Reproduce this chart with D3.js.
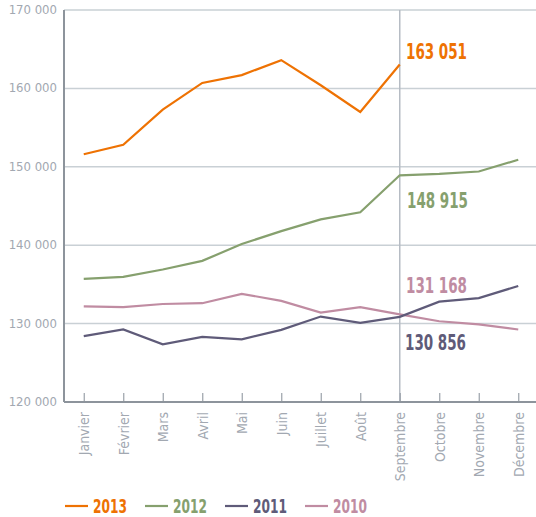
<!DOCTYPE html>
<html>
<head>
<meta charset="utf-8">
<script src="https://cdn.jsdelivr.net/npm/d3@7"></script>
<style>
  body { margin: 0; background: #fff; }
  svg { display: block; }
  .tick-label { font-family: "DejaVu Sans", sans-serif; font-stretch: condensed; fill: #a2a8b1; font-size: 13px; }
  .big { font-family: "DejaVu Sans", sans-serif; font-stretch: condensed; font-weight: bold; }
</style>
</head>
<body>
<svg width="536" height="517"></svg>
<script>
const months = ["Janvier", "Février", "Mars", "Avril", "Mai", "Juin", "Juillet", "Août", "Septembre", "Octobre", "Novembre", "Décembre"]
const yTicks = [120000, 130000, 140000, 150000, 160000, 170000]

const v2013 = [151600, 152800, 157300, 160700, 161700, 163600, 160400, 157000, 163051]
const v2012 = [135700, 135950, 136900, 138000, 140150, 141800, 143300, 144200, 148915, 149100, 149400, 150900]
const v2011 = [128400, 129250, 127350, 128300, 128000, 129200, 130900, 130100, 130856, 132800, 133250, 134800]
const v2010 = [132200, 132100, 132500, 132600, 133800, 132900, 131400, 132100, 131168, 130300, 129900, 129250]

const years = ["2013", "2012", "2011", "2010"]
const colors = ["#ee7203", "#86a06e", "#5f5b79", "#c08ca2"]
const seriesValues = [v2013, v2012, v2011, v2010]

const svg = d3.select('svg')

const xScale = d3.scalePoint()
  .domain(months)
  .range([64, 538])
  .padding(0.5)

const yScale = d3.scaleLinear()
  .domain([120000, 170000])
  .range([402, 10])

const fmt = v => d3.format(",")(v).replace(/,/g, " ")

// horizontal grid
svg.append('g')
  .selectAll('line')
  .data(yTicks.slice(1))
  .enter()
  .append('line')
  .attr('x1', 64).attr('x2', 536)
  .attr('y1', d => yScale(d)).attr('y2', d => yScale(d))
  .attr('stroke', '#c9d0d5')
  .attr('stroke-width', 1.5)

// y labels
svg.append('g')
  .selectAll('text')
  .data(yTicks)
  .enter()
  .append('text')
  .attr('class', 'tick-label')
  .attr('x', 57)
  .attr('y', d => yScale(d) + 4)
  .attr('text-anchor', 'end')
  .text(fmt)

// september marker
svg.append('line')
  .attr('x1', xScale("Septembre")).attr('x2', xScale("Septembre"))
  .attr('y1', yScale(170000)).attr('y2', yScale(120000))
  .attr('stroke', '#b6bcc4')
  .attr('stroke-width', 1.5)

// x axis
const xAxis = svg.append('g')
  .attr('transform', `translate(0, ${yScale(120000)})`)
  .call(d3.axisBottom(xScale).tickSizeInner(-9).tickSizeOuter(0).tickPadding(10))
xAxis.select('.domain').remove()
xAxis.selectAll('.tick line').attr('stroke', '#9aa1a9').attr('stroke-width', 1.2)
xAxis.selectAll('.tick text')
  .attr('class', 'tick-label')
  .attr('font-family', null).attr('font-size', null).attr('fill', null)
  .style('font-size', '14px')
  .attr('transform', 'rotate(-90)')
  .attr('text-anchor', 'end')
  .attr('x', -10)
  .attr('y', 0)
  .attr('dy', '0.35em')

// axis lines
svg.append('line')
  .attr('x1', 64).attr('x2', 536)
  .attr('y1', yScale(120000)).attr('y2', yScale(120000))
  .attr('stroke', '#8d949c').attr('stroke-width', 2)
svg.append('line')
  .attr('x1', 64).attr('x2', 64)
  .attr('y1', yScale(170000)).attr('y2', yScale(120000))
  .attr('stroke', '#8d949c').attr('stroke-width', 2)

const line = d3.line()
  .x((d, i) => xScale(months[i]))
  .y(d => yScale(d))

// draw 2010 first so 2013 sits on top
for (let k = seriesValues.length - 1; k >= 0; k--) {
  svg.append('path')
    .datum(seriesValues[k])
    .attr('d', line)
    .attr('fill', 'none')
    .attr('stroke', colors[k])
    .attr('stroke-width', 2.2)
}

// september value labels
const labels = [
  { k: 0, x: 406, y: 59 },
  { k: 1, x: 407, y: 208 },
  { k: 3, x: 406, y: 293 },
  { k: 2, x: 405, y: 350 }
]
svg.append('g')
  .selectAll('text')
  .data(labels)
  .enter()
  .append('text')
  .attr('class', 'big')
  .attr('x', d => d.x)
  .attr('y', d => d.y)
  .attr('font-size', 21)
  .attr('textLength', 61)
  .attr('lengthAdjust', 'spacingAndGlyphs')
  .attr('fill', d => colors[d.k])
  .text(d => fmt(seriesValues[d.k][8]))

// legend
const legendX = [65, 145, 225, 305]
const legend = svg.append('g')
  .selectAll('g')
  .data(years)
  .enter()
  .append('g')
  .attr('transform', (d, i) => `translate(${legendX[i]}, 506)`)
legend.append('line')
  .attr('x1', 0).attr('x2', 23)
  .attr('y1', 0).attr('y2', 0)
  .attr('stroke', (d, i) => colors[i])
  .attr('stroke-width', 2.2)
legend.append('text')
  .attr('class', 'big')
  .attr('x', 28)
  .attr('y', 7)
  .attr('font-size', 19)
  .attr('textLength', 34)
  .attr('lengthAdjust', 'spacingAndGlyphs')
  .attr('fill', (d, i) => colors[i])
  .text(d => d)
</script>
</body>
</html>
